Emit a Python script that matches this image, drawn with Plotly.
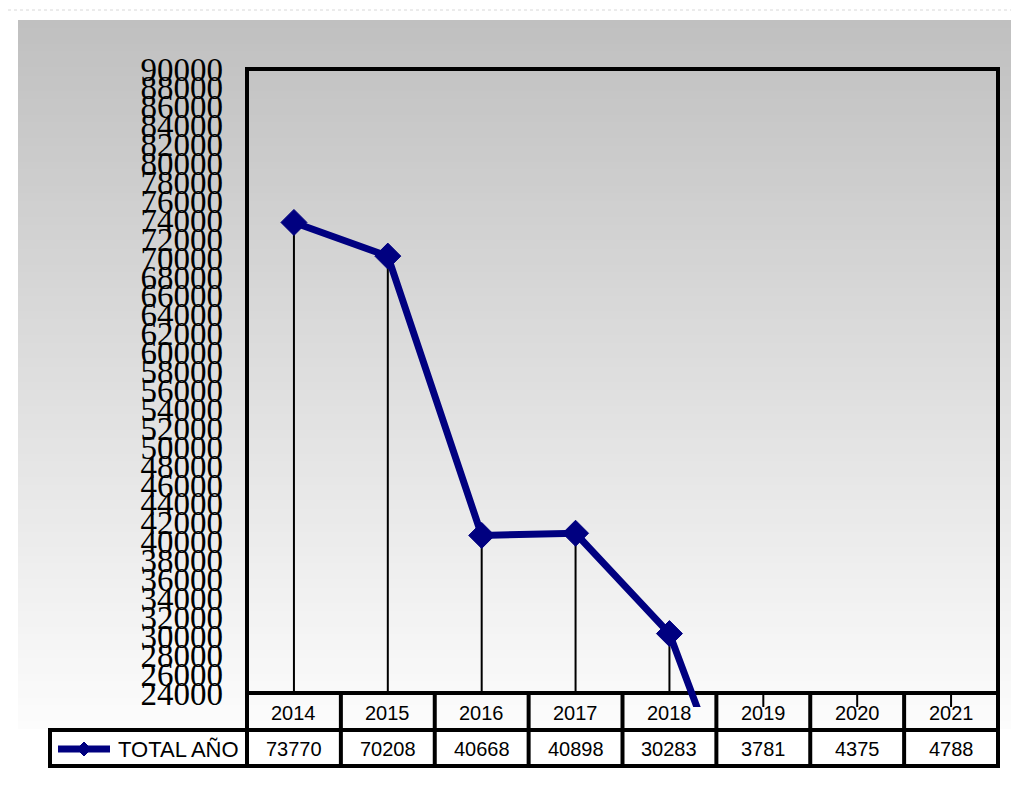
import plotly.graph_objects as go

# ---------------- data ----------------
years = ["2014", "2015", "2016", "2017", "2018", "2019", "2020", "2021"]
total_anio = [73770, 70208, 40668, 40898, 30283, 3781, 4375, 4788]
series_name = "TOTAL AÑO"
y_min, y_max, y_step = 24000, 90000, 2000
tick_vals = list(range(y_min, y_max + 1, y_step))
tick_text = [str(v) for v in tick_vals]

# ---------------- geometry (pixels of the 1019x801 window) ----------------
WIN_W, WIN_H = 1019, 801
OFF = 8                                  # page body margin
W, H = WIN_W - OFF, WIN_H - 2 * OFF
def fx(p): return (p - OFF) / W
def fy(p): return 1 - (p - OFF) / H

PL, PR, PT, PB = 247, 998, 69, 693      # plot frame
CLIP_B = 707                             # line runs a bit into the table, like the original
ROW1_B, ROW2_B = 730, 766                # table rows
LEG_L = 50
BG_L, BG_T, BG_B = 18, 20, 729           # gray gradient panel
NAVY = "#000080"

px_per_unit = (PB - PT) / (y_max - y_min)
y_low = y_min - (CLIP_B - PB) / px_per_unit

fig = go.Figure()

# drop lines from each point down to the category axis
dx, dy = [], []
for yr, v in zip(years, total_anio):
    dx += [yr, yr, None]
    dy += [v, y_min, None]
fig.add_trace(go.Scatter(x=dx, y=dy, mode="lines", line=dict(color="black", width=2),
                         hoverinfo="skip", showlegend=False))

fig.add_trace(go.Scatter(x=years, y=total_anio, mode="lines+markers", name=series_name,
                         line=dict(color=NAVY, width=7),
                         marker=dict(symbol="diamond", size=20, color=NAVY,
                                     line=dict(color=NAVY, width=1)),
                         cliponaxis=True, showlegend=False))

shapes = []
# gradient background panel
N = 90
band = (BG_B - BG_T) / N
for i in range(N):
    t = i / (N - 1)
    c = int(round(192 + (252 - 192) * t))
    y0 = BG_T + i * band
    y1 = min(BG_B, y0 + band + 1)
    shapes.append(dict(type="rect", xref="paper", yref="paper",
                       x0=fx(BG_L), x1=fx(WIN_W + 5), y0=fy(y0), y1=fy(y1),
                       line=dict(width=0), fillcolor=f"rgb({c},{c},{c})", layer="below"))
# faint dotted outer frame (top edge)
shapes.append(dict(type="line", xref="paper", yref="paper", x0=fx(OFF), x1=fx(WIN_W + 5),
                   y0=fy(10), y1=fy(10), line=dict(color="#d8d8d8", width=1, dash="dot"),
                   layer="below"))

def hline(x0, x1, y, w=4):
    shapes.append(dict(type="line", xref="paper", yref="paper", x0=fx(x0), x1=fx(x1),
                       y0=fy(y), y1=fy(y), line=dict(color="black", width=w), layer="below"))
def vline(x, y0, y1, w=4):
    shapes.append(dict(type="line", xref="paper", yref="paper", x0=fx(x), x1=fx(x),
                       y0=fy(y0), y1=fy(y1), line=dict(color="black", width=w), layer="below"))

# white value row
shapes.append(dict(type="rect", xref="paper", yref="paper", x0=fx(LEG_L), x1=fx(PR),
                   y0=fy(ROW2_B), y1=fy(ROW1_B), line=dict(width=0), fillcolor="white",
                   layer="below"))
# plot frame
hline(PL - 2, PR + 2, PT)
vline(PL, PT - 2, PB)
vline(PR, PT - 2, PB)
# data table grid
hline(PL - 2, PR + 2, PB)
hline(LEG_L - 2, PR + 2, ROW1_B)
hline(LEG_L - 2, PR + 2, ROW2_B)
ncat = len(years)
colw = (PR - PL) / ncat
for k in range(ncat + 1):
    vline(PL + k * colw, PB - 2, ROW2_B + 2)
vline(LEG_L, ROW1_B - 2, ROW2_B + 2)

# legend key in the table
ly = 749
shapes.append(dict(type="line", xref="paper", yref="paper", x0=fx(58), x1=fx(110),
                   y0=fy(ly), y1=fy(ly), line=dict(color=NAVY, width=7)))
cx, hw, hh = 84, 7, 7
shapes.append(dict(type="path", xref="paper", yref="paper",
                   path=f"M {fx(cx-hw)},{fy(ly)} L {fx(cx)},{fy(ly-hh)} L {fx(cx+hw)},{fy(ly)} L {fx(cx)},{fy(ly+hh)} Z",
                   fillcolor=NAVY, line=dict(color=NAVY, width=1)))

annotations = []
tfont = dict(family="Liberation Sans, Arial, sans-serif", size=20, color="black")
for i, (yr, v) in enumerate(zip(years, total_anio)):
    annotations.append(dict(x=i, xref="x", y=fy(713), yref="paper", text=yr,
                            showarrow=False, font=tfont, xanchor="center", yanchor="middle"))
    annotations.append(dict(x=i, xref="x", y=fy(749), yref="paper", text=str(v),
                            showarrow=False, font=tfont, xanchor="center", yanchor="middle"))
annotations.append(dict(x=fx(116), xref="paper", y=fy(749), yref="paper", text=series_name,
                        showarrow=False, xanchor="left", yanchor="middle",
                        font=dict(family="Liberation Sans, Arial, sans-serif", size=22, color="black")))

fig.update_layout(
    width=W, height=H, autosize=False,
    margin=dict(l=0, r=0, t=0, b=0, pad=0),
    paper_bgcolor="white", plot_bgcolor="rgba(0,0,0,0)",
    showlegend=False,
    shapes=shapes, annotations=annotations,
    xaxis=dict(type="category", range=[-0.5, ncat - 0.5], domain=[fx(PL), fx(PR)],
               showticklabels=False, showgrid=False, zeroline=False, showline=False, ticks=""),
    yaxis=dict(range=[y_low, y_max], domain=[fy(CLIP_B), fy(PT)],
               tickmode="array", tickvals=tick_vals, ticktext=tick_text,
               showgrid=False, zeroline=False, showline=False, ticks="",
               ticklabelstandoff=23, automargin=False,
               tickfont=dict(family="Liberation Serif, Times New Roman, serif", size=33, color="black")),
)

fig.write_html("out.html")
